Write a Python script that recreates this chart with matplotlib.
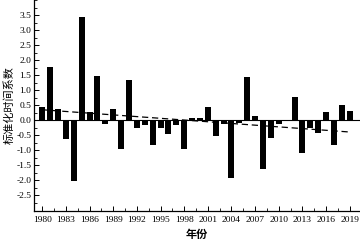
import matplotlib
matplotlib.use("Agg")
import matplotlib.pyplot as plt
import numpy as np
from matplotlib.ticker import MultipleLocator

years = list(range(1980, 2020))
values = [0.45, 1.76, 0.37, -0.61, -2.01, 3.43, 0.26, 1.48, -0.11, 0.38,
          -0.97, 1.33, -0.25, -0.15, -0.83, -0.25, -0.45, -0.17, -0.97, 0.09,
          0.09, 0.43, -0.53, -0.13, -1.92, -0.09, 1.45, 0.13, -1.61, -0.58,
          -0.13, -0.03, 0.76, -1.08, -0.25, -0.41, 0.26, -0.81, 0.51, 0.31]
trend_years = [1980, 2019]
trend_values = [0.35, -0.39]
xtick_years = list(range(1980, 2020, 3))
ylabel = "标准化时间系数"
xlabel = "年份"

fig = plt.figure(figsize=(3.6, 2.42), dpi=100)
ax = fig.add_axes([34/360, 1 - 210.5/242, 1 - 34/360, 210.5/242])

ax.plot(trend_years, trend_values, color="black", lw=0.9, ls=(0, (5, 3)), zorder=1)
ax.bar(years, values, width=0.76, color="black", zorder=2)
ax.axhline(0, color="black", lw=0.8, zorder=3)

ax.set_xlim(1978.95, 2020.3)
ax.set_ylim(-3.0, 4.0)
ax.set_xticks(xtick_years)
ax.set_xticklabels([str(y) for y in xtick_years], family="Liberation Serif", fontsize=6.8)
ax.xaxis.set_minor_locator(MultipleLocator(1.5))
ax.set_yticks(np.arange(-2.5, 3.51, 0.5))
ax.set_yticklabels([f"{v:.1f}" for v in np.arange(-2.5, 3.51, 0.5)],
                   family="Liberation Serif", fontsize=6.8)
ax.yaxis.set_minor_locator(MultipleLocator(0.25))
ax.tick_params(which="major", direction="in", length=3.5, width=0.7, pad=2)
ax.tick_params(which="minor", direction="in", length=2, width=0.6)
ax.tick_params(axis="x", pad=4)

for s in ["top", "right"]:
    ax.spines[s].set_visible(False)
for s in ["left", "bottom"]:
    ax.spines[s].set_linewidth(0.9)

ax.set_ylabel(ylabel, family=["Noto Sans CJK SC", "DejaVu Sans"], fontsize=8, labelpad=1)
ax.set_xlabel(xlabel, family=["Noto Sans CJK SC", "DejaVu Sans"], fontsize=8,
              fontweight="bold", labelpad=3)

fig.savefig("out.png", dpi=100)
